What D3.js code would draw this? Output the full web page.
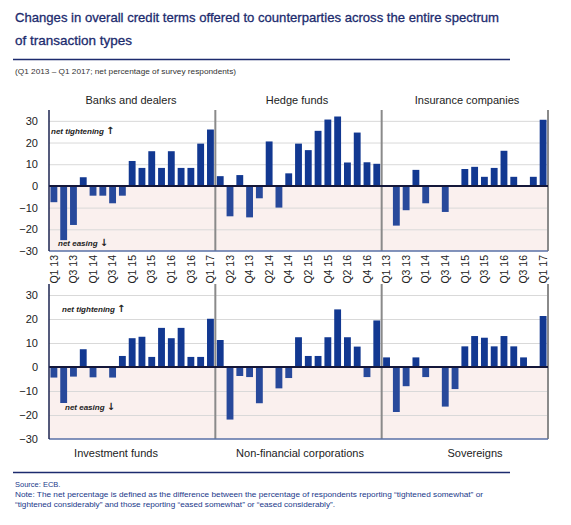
<!DOCTYPE html>
<html>
<head>
<meta charset="utf-8">
<script src="https://cdn.jsdelivr.net/npm/d3@7"></script>
<style>
  html, body { margin: 0; padding: 0; background: #ffffff; }
  svg { display: block; font-family: "Liberation Sans", Arial, sans-serif; }
</style>
</head>
<body>
<svg id="chart" width="571" height="525"></svg>
<script>
// ---------------- DATA ----------------
const quarters = ["Q1 13","Q2 13","Q3 13","Q4 13","Q1 14","Q2 14","Q3 14","Q4 14",
                  "Q1 15","Q2 15","Q3 15","Q4 15","Q1 16","Q2 16","Q3 16","Q4 16","Q1 17"];

const banksDealers       = [-7.5,-25,-18,4,-4.5,-4.5,-8,-4.5,11.5,8.3,16,8.3,16,8.3,8.3,19.5,26];
const hedgeFunds         = [4.5,-14,5,-14.5,-5.7,20.5,-10,5.8,19.5,16.5,25.4,30.6,32,10.8,24.6,10.9,10.2];
const insuranceCompanies = [0,-18.3,-11.2,7.4,-8,0,-12,0,7.8,8.8,4.2,8.3,16.2,4.2,0,4.2,30.5];
const investmentFunds    = [-4.4,-15,-4,7.4,-4.3,0,-4.4,4.6,12,12.6,4.2,16.3,12,16.3,4.2,4.2,20.1];
const nonFinancialCorps  = [11.25,-21.9,-3.75,-4.2,-15.1,0,-8.9,-4.6,12.4,4.6,4.6,12.4,24,12.4,8.5,-4.2,19.4];
const sovereigns         = [4,-18.75,-8,4,-4.2,0,-16.5,-9.2,8.6,12.9,12.2,8.6,12.9,8.6,4,0,21.25];

const topNames    = ["Banks and dealers","Hedge funds","Insurance companies"];
const bottomNames = ["Investment funds","Non-financial corporations","Sovereigns"];
const topSeries    = [banksDealers, hedgeFunds, insuranceCompanies];
const bottomSeries = [investmentFunds, nonFinancialCorps, sovereigns];
const yTicks = [-30,-20,-10,0,10,20,30];

const titleLines = ["Changes in overall credit terms offered to counterparties across the entire spectrum",
                    "of transaction types"];
const subtitle = "(Q1 2013 \u2013 Q1 2017; net percentage of survey respondents)";
const sourceText = "Source: ECB.";
const noteLines = ["Note: The net percentage is defined as the difference between the percentage of respondents reporting \u201ctightened somewhat\u201d or",
                   "\u201ctightened considerably\u201d and those reporting \u201ceased somewhat\u201d or \u201ceased considerably\u201d."];

// ---------------- DRAW ----------------
const svg = d3.select("#chart");
const navy = "#1c2b6e";
const noteBlue = "#22398a";

// Title
svg.append("text").attr("x",15).attr("y",22).attr("font-size",13.5).attr("fill",navy)
  .attr("stroke",navy).attr("stroke-width",0.3)
  .attr("textLength",484).attr("lengthAdjust","spacingAndGlyphs").text(titleLines[0]);
svg.append("text").attr("x",15).attr("y",45).attr("font-size",13.5).attr("fill",navy)
  .attr("stroke",navy).attr("stroke-width",0.3)
  .text(titleLines[1]);
svg.append("line").attr("x1",13).attr("x2",510).attr("y1",59.5).attr("y2",59.5)
  .attr("stroke",navy).attr("stroke-width",1.5);
svg.append("text").attr("x",15).attr("y",74).attr("font-size",8).attr("fill","#333")
  .attr("textLength",221).attr("lengthAdjust","spacingAndGlyphs").text(subtitle);

const x0 = 49, x1 = 548;
const x = d3.scaleBand().domain(d3.range(51)).range([x0, x1]).paddingInner(0.3).paddingOuter(0.15);
const dividers = [x0 + x.step()*17, x0 + x.step()*34];

function drawRow(series, yScale, top, bottom) {
  const g = svg.append("g");
  const y0 = yScale(0);
  g.append("rect").attr("x",x0).attr("y",y0).attr("width",x1-x0).attr("height",yScale(-30)-y0)
    .attr("fill","#faf0ee");
  g.selectAll("line.grid").data(yTicks.filter(v => v !== 0 && v !== -30)).join("line")
    .attr("x1",x0).attr("x2",x1).attr("y1",d=>yScale(d)+0.5).attr("y2",d=>yScale(d)+0.5)
    .attr("stroke","#d9d9d9").attr("stroke-width",1);
  const flat = [];
  series.forEach((arr,p) => arr.forEach((v,i) => flat.push({idx:p*17+i, v})));
  g.selectAll("rect.bar").data(flat.filter(d => d.v !== 0)).join("rect")
    .attr("x", d => x(d.idx)).attr("width", x.bandwidth())
    .attr("y", d => Math.min(yScale(d.v), y0))
    .attr("height", d => Math.abs(yScale(d.v) - y0))
    .attr("fill", d => d.v > 0 ? "#123891" : "#27499b");
  g.selectAll("line.div").data([...dividers, x1]).join("line")
    .attr("x1",d=>d).attr("x2",d=>d).attr("y1",top).attr("y2",bottom)
    .attr("stroke","#8a8a8a").attr("stroke-width",2);
  g.append("line").attr("x1",x0).attr("x2",x1).attr("y1",bottom).attr("y2",bottom)
    .attr("stroke","#5870a6").attr("stroke-width",1.5);
  g.append("line").attr("x1",x0).attr("x2",x1).attr("y1",y0).attr("y2",y0)
    .attr("stroke","#14173a").attr("stroke-width",2);
  g.append("line").attr("x1",x0).attr("x2",x0).attr("y1",top).attr("y2",bottom)
    .attr("stroke","#1d2450").attr("stroke-width",1.5);
  const ax = g.append("g").attr("transform",`translate(${x0},0)`)
    .call(d3.axisLeft(yScale).tickValues(yTicks).tickSize(0).tickPadding(11).tickFormat(d3.format("d")));
  ax.select(".domain").remove();
  ax.selectAll("text").attr("font-size",11).attr("fill","#222").attr("font-family","\"Liberation Sans\", Arial, sans-serif");
}

const yTop = d3.scaleLinear().domain([-30,35]).range([251,110]);
const yBot = d3.scaleLinear().domain([-30,35]).range([439,283]);

drawRow(topSeries, yTop, 110, 251);
drawRow(bottomSeries, yBot, 284, 439);

const xa = svg.append("g").attr("transform","translate(0,253)")
  .call(d3.axisBottom(x).tickValues(d3.range(0,51,2)).tickFormat(i => quarters[i % 17]).tickSize(0));
xa.select(".domain").remove();
xa.selectAll("text").attr("font-size",10.5).attr("fill","#222")
  .attr("font-family","\"Liberation Sans\", Arial, sans-serif")
  .attr("transform","rotate(-90)").attr("text-anchor","end")
  .attr("x",-2).attr("y",0).attr("dy","0.35em");

const topTitleX = [131, 297, 467];
const botTitleX = [116, 300, 475];
topNames.forEach((n,i) => svg.append("text").attr("x",topTitleX[i]).attr("y",104)
  .attr("text-anchor","middle").attr("font-size",11).attr("fill","#222").text(n));
bottomNames.forEach((n,i) => svg.append("text").attr("x",botTitleX[i]).attr("y",457)
  .attr("text-anchor","middle").attr("font-size",11).attr("fill","#222").text(n));

function annot(xp, yp, t, arrow) {
  const tx = svg.append("text").attr("x",xp).attr("y",yp).attr("font-size",8).attr("font-style","italic")
    .attr("font-weight","bold").attr("fill","#222");
  tx.append("tspan").text(t + " ");
  tx.append("tspan").attr("font-size",10).attr("font-style","normal").attr("font-family","\"DejaVu Sans\", sans-serif").text(arrow);
}
annot(51, 134, "net tightening", "\u2191");
annot(58, 246, "net easing", "\u2193");
annot(62, 312, "net tightening", "\u2191");
annot(65, 410, "net easing", "\u2193");

svg.append("line").attr("x1",13).attr("x2",510).attr("y1",472.5).attr("y2",472.5)
  .attr("stroke",navy).attr("stroke-width",1.5);
svg.append("text").attr("x",15).attr("y",487).attr("font-size",7.5).attr("fill",noteBlue).text(sourceText);
svg.append("text").attr("x",15).attr("y",497).attr("font-size",7.5).attr("fill",noteBlue)
  .attr("textLength",468).attr("lengthAdjust","spacingAndGlyphs").text(noteLines[0]);
svg.append("text").attr("x",15).attr("y",507).attr("font-size",7.5).attr("fill",noteBlue)
  .attr("textLength",320).attr("lengthAdjust","spacingAndGlyphs").text(noteLines[1]);
</script>
</body>
</html>
